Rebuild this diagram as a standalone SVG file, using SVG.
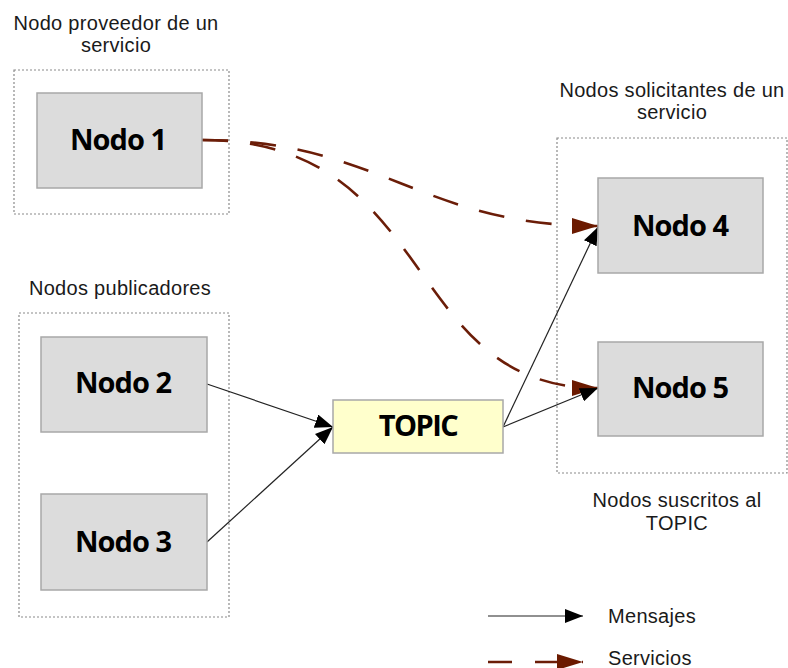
<svg xmlns="http://www.w3.org/2000/svg" width="788" height="668" viewBox="0 0 788 668">
<defs>
<style>
.grp{fill:none;stroke:#8a8a8a;stroke-width:1.2;stroke-dasharray:2 2}
.node rect{fill:#dcdcdc;stroke:#a8a8a8;stroke-width:1.5}
.node text{font-family:"Open Sans",sans-serif;font-weight:bold;font-size:29px;letter-spacing:-1px;fill:#000;text-anchor:middle}
.lbl{font-family:"Liberation Sans",Arial,sans-serif;font-size:20px;letter-spacing:0.3px;fill:#1a1a1a;text-anchor:middle}
.leg{font-family:"Liberation Sans",Arial,sans-serif;font-size:20px;letter-spacing:0.3px;fill:#1a1a1a}
.msg{fill:none;stroke:#222;stroke-width:1.2}
.srv{fill:none;stroke:#6b1d08;stroke-width:2.6;stroke-dasharray:26 22}
</style>
<marker id="ab" markerWidth="18" markerHeight="14" refX="18" refY="7" orient="auto" markerUnits="userSpaceOnUse">
<path d="M0,0 L18,7 L0,14 z" fill="#000"/>
</marker>
<marker id="ar" markerWidth="26" markerHeight="16" refX="26" refY="8" orient="auto" markerUnits="userSpaceOnUse">
<path d="M0,0 L26,8 L0,16 z" fill="#6b1a00"/>
</marker>
</defs>
<rect width="788" height="668" fill="#fff"/>

<g id="grp-proveedor">
<rect class="grp" x="14" y="70" width="215" height="144"/>
<text class="lbl" x="116" y="30">Nodo proveedor de un</text>
<text class="lbl" x="116" y="52">servicio</text>
</g>
<g id="grp-publicadores">
<rect class="grp" x="19" y="313" width="210" height="304"/>
<text class="lbl" x="120" y="295">Nodos publicadores</text>
</g>
<g id="grp-solicitantes">
<rect class="grp" x="557" y="138" width="230" height="335"/>
<text class="lbl" x="672" y="97">Nodos solicitantes de un</text>
<text class="lbl" x="672" y="119">servicio</text>
<text class="lbl" x="677" y="507">Nodos suscritos al</text>
<text class="lbl" x="677" y="530">TOPIC</text>
</g>

<g id="connectors">
<path class="srv" d="M202,140 C380,140 420,226 598,226" marker-end="url(#ar)"/>
<path class="srv" d="M202,140 C440,140 400,388 598,388" marker-end="url(#ar)"/>
<line class="msg" x1="207" y1="384" x2="333" y2="427" marker-end="url(#ab)"/>
<line class="msg" x1="207" y1="542" x2="333" y2="427" marker-end="url(#ab)"/>
<line class="msg" x1="503" y1="427" x2="598" y2="227" marker-end="url(#ab)"/>
<line class="msg" x1="503" y1="427" x2="598" y2="388" marker-end="url(#ab)"/>
</g>

<g id="nodo1" class="node"><rect x="37" y="93" width="165" height="95"/><text x="118" y="150">Nodo 1</text></g>
<g id="nodo2" class="node"><rect x="41" y="337" width="166" height="95"/><text x="123" y="393">Nodo 2</text></g>
<g id="nodo3" class="node"><rect x="41" y="494" width="166" height="96"/><text x="123" y="552">Nodo 3</text></g>
<g id="nodo4" class="node"><rect x="598" y="178" width="165" height="95"/><text x="680" y="236">Nodo 4</text></g>
<g id="nodo5" class="node"><rect x="598" y="342" width="165" height="94"/><text x="680" y="398">Nodo 5</text></g>
<g id="topic" class="node"><rect x="333" y="400" width="170" height="53" style="fill:#ffffcc"/><text x="418" y="436" style="letter-spacing:-1.5px">TOPIC</text></g>

<g id="legend">
<line class="msg" x1="488" y1="616" x2="583" y2="616" marker-end="url(#ab)"/>
<text class="leg" x="608" y="623">Mensajes</text>
<path class="srv" d="M488,662 L583,662" style="stroke-dasharray:24 23" marker-end="url(#ar)"/>
<text class="leg" x="608" y="665">Servicios</text>
</g>
</svg>
